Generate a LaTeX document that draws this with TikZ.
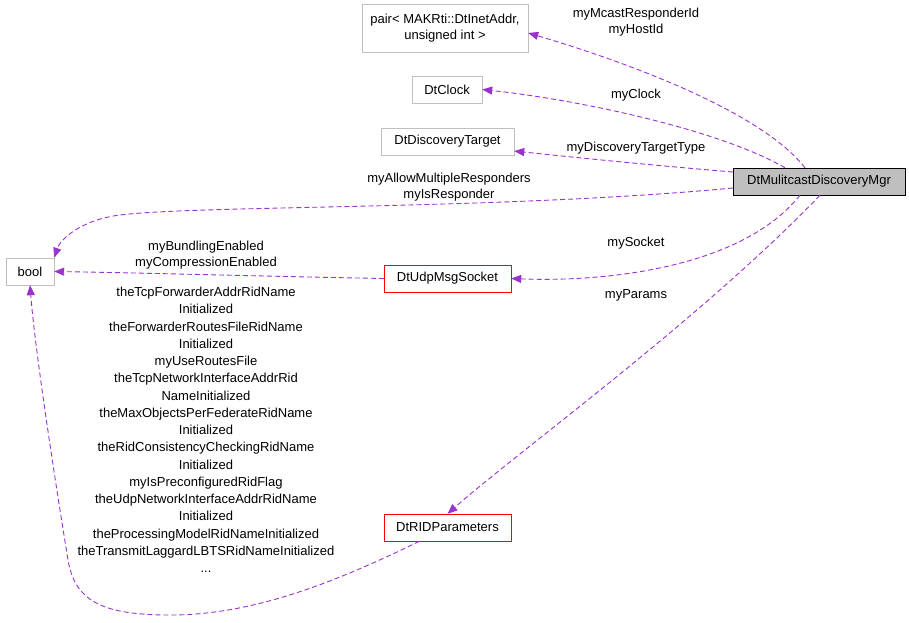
\documentclass[tikz,border=0pt]{standalone}
\usepackage{fontspec}
\setmainfont{Liberation Sans}
\usetikzlibrary{arrows.meta}
\definecolor{edgecol}{RGB}{154,50,205}
\definecolor{boxgray}{RGB}{191,191,191}
\begin{document}
\begin{tikzpicture}[x=1pt,y=-1pt,
    cls/.style={draw=boxgray,fill=white,minimum height=27pt,inner sep=0pt,font=\fontsize{13}{16}\selectfont},
    red cls/.style={cls,draw=red},
    main cls/.style={cls,draw=black,fill=boxgray},
    uses/.style={draw=edgecol,line width=0.9pt,dash pattern=on 5pt off 3pt,-{Triangle[length=10pt,width=8pt,fill=edgecol]}},
    lbl/.style={font=\fontsize{13}{16.5}\selectfont,align=center,inner sep=0pt}]
    \useasboundingbox (0,0) rectangle (909,622);

    % class boxes
    \node[cls,minimum width=166pt,minimum height=48pt,align=center] (pair) at (445,28) {pair\textless{} MAKRti::DtInetAddr,\\unsigned int \textgreater};
    \node[cls,minimum width=70pt] (clock) at (447,89.5) {DtClock};
    \node[cls,minimum width=133pt] (target) at (447.5,141.5) {DtDiscoveryTarget};
    \node[main cls,minimum width=172pt] (mgr) at (819,181.5) {DtMulitcastDiscoveryMgr};
    \node[cls,minimum width=48pt] (bool) at (30,271.5) {bool};
    \node[red cls,minimum width=127pt] (socket) at (447.5,278.5) {DtUdpMsgSocket};
    \node[red cls,minimum width=127pt] (params) at (447.5,527.5) {DtRIDParameters};

    % connectors
    \draw[uses] (mgr.north) ++(-14,0) .. controls (760,110) and (620,60) .. (pair.east |- 0,33);
    \draw[uses] (mgr.north) ++(-34,0) .. controls (720,130) and (580,100) .. (clock.east);
    \draw[uses] (mgr.west |- 0,172) .. controls (650,165) and (580,158) .. (target.east |- 0,151);
    \draw[uses] (mgr.west |- 0,188) .. controls (500,210) and (200,205) .. (120,215) .. controls (80,220) and (60,240) .. (bool.north east);
    \draw[uses] (mgr.south) ++(-19,0) .. controls (740,270) and (600,282) .. (socket.east);
    \draw[uses] (mgr.south) ++(1,0) .. controls (700,320) and (520,450) .. (params.north);
    \draw[uses] (socket.west) .. controls (250,276) and (150,273) .. (bool.east);
    \draw[uses] (params.south) ++(-28,0) .. controls (330,585) and (250,615) .. (170,615) .. controls (100,615) and (75,600) .. (68,560) .. controls (55,480) and (35,350) .. (bool.south);

    % labels
    \node[lbl] (l-pair) at (636,22) {myMcastResponderId\\myHostId};
    \node[lbl] (l-clock) at (636,95) {myClock};
    \node[lbl] (l-target) at (636,148) {myDiscoveryTargetType};
    \node[lbl] (l-resp) at (449,187) {myAllowMultipleResponders\\myIsResponder};
    \node[lbl] (l-socket) at (636,243) {mySocket};
    \node[lbl] (l-params) at (636,295) {myParams};
    \node[lbl] (l-bund) at (206,255) {myBundlingEnabled\\myCompressionEnabled};
    \node[lbl,font=\fontsize{13}{17.25}\selectfont] (l-rid) at (206,430) {theTcpForwarderAddrRidName\\Initialized\\theForwarderRoutesFileRidName\\Initialized\\myUseRoutesFile\\theTcpNetworkInterfaceAddrRid\\NameInitialized\\theMaxObjectsPerFederateRidName\\Initialized\\theRidConsistencyCheckingRidName\\Initialized\\myIsPreconfiguredRidFlag\\theUdpNetworkInterfaceAddrRidName\\Initialized\\theProcessingModelRidNameInitialized\\theTransmitLaggardLBTSRidNameInitialized\\...};
\end{tikzpicture}
\end{document}
